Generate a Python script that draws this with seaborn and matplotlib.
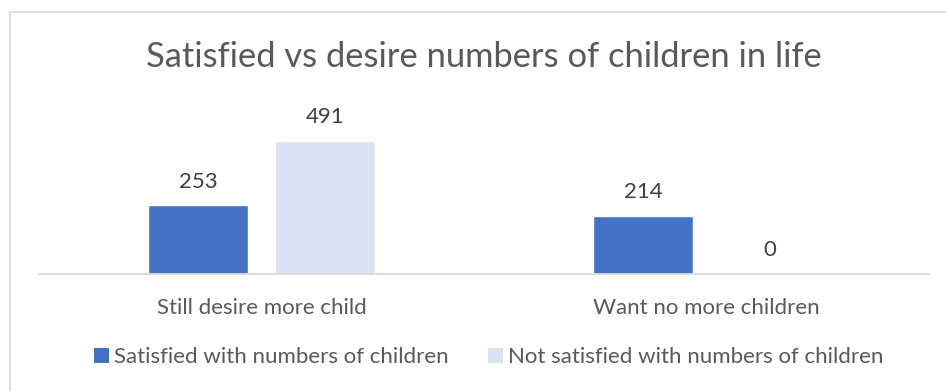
import matplotlib
matplotlib.use("Agg")
import matplotlib.pyplot as plt
import seaborn as sns
import pandas as pd
from matplotlib.patches import Rectangle, Patch

categories = ["Still desire more child", "Want no more children"]
series_names = ["Satisfied with numbers of children", "Not satisfied with numbers of children"]
satisfied = [253, 214]
not_satisfied = [491, 0]
title = "Satisfied vs desire numbers of children in life"

colors = ["#4472C4", "#DAE3F3"]
text_gray = "#595959"
label_gray = "#404040"

df = pd.DataFrame({
    "category": categories * 2,
    "series": [series_names[0]] * 2 + [series_names[1]] * 2,
    "value": satisfied + not_satisfied,
})

sns.set_theme(style="white")
plt.rcParams["font.family"] = ["Lato", "DejaVu Sans"]

fig = plt.figure(figsize=(9.46, 3.91), dpi=100)
ax = fig.add_axes([39 / 946, 1 - 274 / 391, 890 / 946, 162.6 / 391])

sns.barplot(data=df, x="category", y="value", hue="series", order=categories,
            hue_order=series_names, palette=colors, width=0.571, gap=0.213,
            saturation=1, ax=ax, legend=False)

ax.set_xlim(-0.5, 1.5)
ax.set_ylim(0, 600)
ax.set_xlabel("")
ax.set_ylabel("")
ax.set_yticks([])
for s in ["top", "right", "left"]:
    ax.spines[s].set_visible(False)
ax.spines["bottom"].set_color("#D9D9D9")
ax.spines["bottom"].set_linewidth(1.3)
ax.tick_params(axis="x", length=0, pad=17, labelsize=16, labelcolor=text_gray)

for cont in ax.containers:
    ax.bar_label(cont, fmt="%d", padding=10, fontsize=16, color=label_gray)

fig.text(484 / 946, 1 - 57 / 391, title, ha="center", va="center", fontsize=24.8, color=text_gray)

handles = [Patch(facecolor=c, edgecolor="none") for c in colors]
fig.legend(handles, series_names, loc="center", bbox_to_anchor=(488.5 / 946, 1 - 357 / 391),
           ncol=2, frameon=False, fontsize=16, labelcolor=text_gray,
           handlelength=0.68, handleheight=0.68, handletextpad=0.2, columnspacing=1.8)

border = Rectangle((10 / 946, -0.05), 1.0, 1 - 12 / 391 + 0.05, transform=fig.transFigure,
                   fill=False, edgecolor="#D9D9D9", linewidth=1.3)
fig.patches.append(border)

fig.savefig("out.png", dpi=100, facecolor="white")
